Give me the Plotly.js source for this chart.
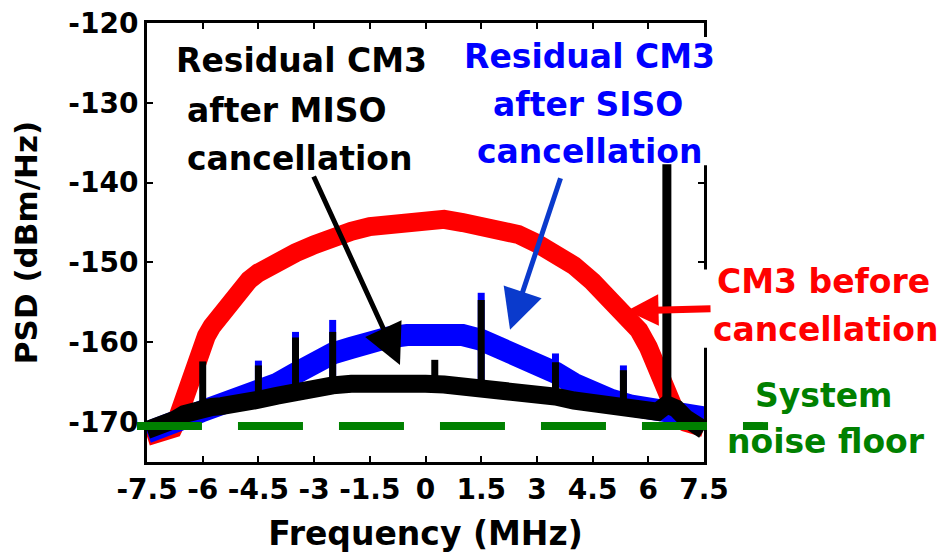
<!DOCTYPE html>
<html><head><meta charset="utf-8">
<script src="https://cdn.plot.ly/plotly-3.0.1.min.js"></script>
<style>html,body{margin:0;padding:0;background:#fff}#chart{width:940px;height:556px}</style>
</head><body><div id="chart"></div>
<script>
// ---------- data ----------
const red_freq = [-7.5,-7.25,-7.0,-6.8,-6.7,-6.6,-6.5,-6.4,-6.3,-6.2,-6.1,-6.0,-5.9,-5.75,-5.5,-5.25,-5.0,-4.75,-4.5,-4.25,-4.0,-3.5,-3.0,-2.5,-2.0,-1.5,-1.0,-0.5,0,0.25,0.5,1.0,1.5,2.0,2.5,3.0,3.5,4.0,4.5,5.0,5.25,5.5,5.75,6.0,6.15,6.3,6.4,6.5,6.6,6.8,7.0,7.25,7.5];
const red_psd  = [-171.8,-171.6,-171.3,-170.8,-169.8,-168.3,-166.8,-165.6,-164.8,-163.2,-161.5,-160.2,-159.2,-158.0,-156.4,-154.8,-153.3,-152.2,-151.3,-150.5,-149.9,-148.8,-147.8,-146.8,-146.1,-145.5,-145.2,-144.9,-144.5,-144.4,-144.6,-145.0,-145.4,-145.8,-146.5,-147.6,-148.9,-150.4,-152.4,-154.6,-155.7,-156.9,-158.5,-160.6,-162.4,-164.5,-165.9,-167.2,-168.4,-169.5,-170.0,-170.4,-170.7];

const freq = [-7.5,-7.25,-7.0,-6.75,-6.5,-6.25,-6.0,-5.75,-5.5,-5.0,-4.5,-4.0,-3.5,-3.0,-2.5,-2.0,-1.5,-1.0,-0.5,0,0.5,1.0,1.5,2.0,2.5,3.0,3.5,4.0,4.5,5.0,5.5,6.0,6.25,6.5,6.75,7.0,7.25,7.5];
const siso_psd = [-171.3,-171.0,-170.7,-170.2,-169.6,-169.1,-168.6,-168.2,-167.9,-167.4,-166.6,-165.2,-163.9,-162.4,-161.4,-160.7,-159.9,-159.4,-159.1,-158.9,-158.9,-159.1,-159.7,-160.6,-161.6,-162.8,-163.8,-165.2,-166.4,-167.2,-167.9,-168.3,-168.5,-168.6,-168.8,-169.0,-169.2,-169.4];
const miso_psd = [-171.0,-170.7,-170.3,-169.7,-169.0,-168.6,-168.3,-168.1,-168.0,-167.8,-167.2,-166.7,-166.1,-165.7,-165.4,-165.2,-165.1,-165.1,-165.1,-165.2,-165.3,-165.5,-165.7,-165.9,-166.1,-166.4,-166.8,-167.3,-167.6,-167.9,-168.2,-168.8,-168.7,-167.8,-168.3,-169.5,-170.5,-171.0];

const spike_freq = [-6.0,-4.5,-3.5,-2.5,0.25,1.5,3.5,5.33,6.5];
const spike_base = [-168.3,-167.2,-166.1,-165.4,-165.2,-165.7,-166.8,-168.1,-167.8];
const miso_spike_peak = [-162.4,-162.9,-159.4,-158.7,-162.2,-154.7,-162.5,-163.5,-137.7];
const siso_spike_peak = [null,-162.3,-158.7,-157.2,null,-153.8,-161.4,-162.9,null];

const noise_floor = -170.5;

const x_ticks = [-7.5,-6,-4.5,-3,-1.5,0,1.5,3,4.5,6,7.5];
const x_tick_labels = ['-7.5','-6','-4.5','-3','-1.5','0','1.5','3','4.5','6','7.5'];
const y_ticks = [-170,-160,-150,-140,-130,-120];
const y_tick_labels = ['-170','-160','-150','-140','-130','-120'];

// ---------- build ----------
function segs(xs, base, peak){
  const x=[], y=[];
  xs.forEach((v,i)=>{ if(peak[i]==null) return; x.push(v,v,null); y.push(base[i],peak[i],null); });
  return {x,y};
}
const FONT = 'DejaVu Sans';
const bs = segs(spike_freq, spike_base, siso_spike_peak);
const bigIdx = spike_freq.length-1;
const ksSmall = segs(spike_freq.slice(0,bigIdx), spike_base.slice(0,bigIdx), miso_spike_peak.slice(0,bigIdx));
const ksBig = segs(spike_freq.slice(bigIdx), spike_base.slice(bigIdx), miso_spike_peak.slice(bigIdx));

const traces = [
  {x:red_freq, y:red_psd, mode:'lines', line:{color:'#ff0000', width:19}, hoverinfo:'skip'},
  {x:freq, y:siso_psd, mode:'lines', line:{color:'#0000ff', width:22}, hoverinfo:'skip'},
  {x:bs.x, y:bs.y, mode:'lines', line:{color:'#0000ff', width:7}, hoverinfo:'skip'},
  {x:freq, y:miso_psd, mode:'lines', line:{color:'#000000', width:18}, hoverinfo:'skip'},
  {x:ksSmall.x, y:ksSmall.y, mode:'lines', line:{color:'#000000', width:7}, hoverinfo:'skip'},
  {x:ksBig.x, y:ksBig.y, mode:'lines', line:{color:'#000000', width:9}, hoverinfo:'skip'}
];

function lab(text, color, xp, yp){
  return {text:text, xref:'paper', yref:'paper', x:xp, y:yp, xanchor:'center', yanchor:'middle',
          showarrow:false, font:{family:FONT, size:33, color:color, weight:'bold'}};
}
const annotations = [
  lab('Residual CM3','#000000',0.2765,0.9139),
  lab('after MISO','#000000',0.2504,0.8014),
  lab('cancellation','#000000',0.2729,0.6918),
  lab('Residual CM3','#0000ff',0.7953,0.9235),
  lab('after SISO','#0000ff',0.7926,0.8139),
  lab('cancellation','#0000ff',0.7953,0.7066),
  lab('CM3 before','#ff0000',1.2154,0.4121),
  lab('cancellation','#ff0000',1.2181,0.3014),
  lab('System','#008000',1.2145,0.1518),
  lab('noise floor','#008000',1.2199,0.0468),
  {text:'', xref:'x', yref:'y', x:-0.687, y:-162.84, ax:-87, ay:-190, showarrow:true,
   arrowhead:2, arrowsize:1.6, arrowwidth:5, arrowcolor:'#000000', standoff:0},
  {text:'', xref:'x', yref:'y', x:2.276, y:-158.44, ax:51, ay:-153, showarrow:true,
   arrowhead:2, arrowsize:1.6, arrowwidth:5, arrowcolor:'#0a3acc', standoff:0},
  {text:'', xref:'x', yref:'y', x:5.427, y:-156.06, ax:85, ay:-2, showarrow:true,
   arrowhead:2, arrowsize:0.9, arrowwidth:7, arrowcolor:'#ff0000', standoff:0}
];

const shapes = [
  {type:'rect', xref:'paper', yref:'paper', x0:0.9713, x1:1.018, y0:0.6758, y1:0.968,
   fillcolor:'#ffffff', line:{width:0}, layer:'above'},
  {type:'rect', xref:'paper', yref:'paper', x0:0.9713, x1:1.018, y0:0.2603, y1:0.4384,
   fillcolor:'#ffffff', line:{width:0}, layer:'above'},
  {type:'line', xref:'paper', yref:'y', x0:-0.018, x1:1.115, y0:noise_floor, y1:noise_floor,
   line:{color:'#008000', width:8, dash:'65px,36px'}, layer:'above'}
];

const tickFont = {family:FONT, size:28, color:'#000000', weight:'bold'};

const layout = {
  width:940, height:556,
  margin:{l:147, r:236, t:23, b:94, pad:0},
  paper_bgcolor:'#ffffff', plot_bgcolor:'#ffffff',
  showlegend:false,
  xaxis:{range:[-7.5,7.5], tickmode:'array', tickvals:x_ticks, ticktext:x_tick_labels,
         ticks:'inside', ticklen:6, tickwidth:2, tickcolor:'#000000',
         showline:true, linewidth:3, linecolor:'#000000', mirror:'ticks',
         showgrid:false, zeroline:false, tickfont:tickFont,
         title:{text:'Frequency (MHz)', font:{family:FONT, size:33, color:'#000000', weight:'bold'}, standoff:18}},
  yaxis:{range:[-175,-120], tickmode:'array', tickvals:y_ticks, ticktext:y_tick_labels,
         ticks:'inside', ticklen:6, tickwidth:2, tickcolor:'#000000',
         showline:true, linewidth:3, linecolor:'#000000', mirror:'ticks',
         showgrid:false, zeroline:false, tickfont:tickFont,
         title:{text:'PSD (dBm/Hz)', font:{family:FONT, size:31, color:'#000000', weight:'bold'}, standoff:22}},
  annotations:annotations,
  shapes:shapes
};

Plotly.newPlot('chart', traces, layout, {staticPlot:true, displayModeBar:false});
</script></body></html>
